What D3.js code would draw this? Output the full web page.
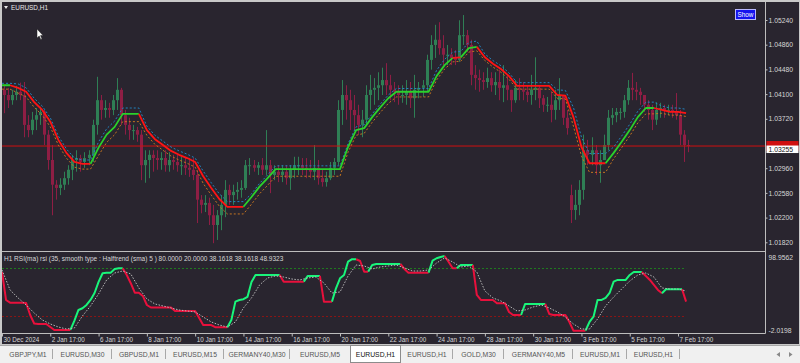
<!DOCTYPE html>
<html><head><meta charset="utf-8">
<script src="https://cdn.jsdelivr.net/npm/d3@7"></script>
<style>
html,body{margin:0;padding:0;background:#f0f0f0;overflow:hidden;}
svg{display:block;}
text{font-family:"Liberation Sans",Arial,sans-serif;}
</style></head><body>
<svg id="chart" width="800" height="363"></svg>
<script>
// ---------------- DATA ----------------
const symbolTitle = "EURUSD,H1";
const rsiTitle = "H1 RSI(ma) rsi (35, smooth type : Halftrend (sma)  5 ) 80.0000 20.0000 38.1618 38.1618 48.9323";
const timeLabels = ["30 Dec 2024","2 Jan 17:00","6 Jan 17:00","8 Jan 17:00","10 Jan 17:00","14 Jan 17:00","16 Jan 17:00","20 Jan 17:00","22 Jan 17:00","24 Jan 17:00","28 Jan 17:00","30 Jan 17:00","3 Feb 17:00","5 Feb 17:00","7 Feb 17:00"];
const timeLabelBars = [0,12,24,36,48,60,72,84,96,108,120,132,144,156,168]; // in 4-hour candle units
const priceTicks = [1.05240,1.04860,1.04480,1.04100,1.03720,1.02960,1.02580,1.02200,1.01820];
const bidPrice = 1.03255;
const hLinePrice = 1.03255;
const rsiLevels = [80, 20];
const rsiScaleLabels = ["98.9562","-2.0198"];
const rsiRange = [-2.0198, 98.9562];
const tabNames = ["GBPJPY,M1","EURUSD,M30","GBPUSD,M1","EURUSD,M15","GERMANY40,M30","EURUSD,M5","EURUSD,H1","EURUSD,H1","GOLD,M30","GERMANY40,M5","EURUSD,M1","EURUSD,H1"];
const activeTab = 6;

// 4-hour candles (aggregated from H1)
const candleOpen = [1.0412,1.0404,1.0396,1.0404,1.0409,1.0404,1.0358,1.0350,1.0366,1.0373,
1.0378,1.0343,1.0304,1.0266,1.0261,1.0266,1.0276,1.0289,1.0304,1.0307,
1.0301,1.0307,1.0312,1.0358,1.0396,1.0381,1.0384,1.0381,1.0396,1.0412,
1.0373,1.0358,1.0350,1.0350,1.0343,1.0296,1.0304,1.0312,1.0307,1.0304,
1.0307,1.0296,1.0304,1.0301,1.0296,1.0296,1.0292,1.0289,1.0281,1.0243,
1.0235,1.0238,1.0219,1.0204,1.0219,1.0235,1.0258,1.0250,1.0255,1.0258,
1.0261,1.0296,1.0296,1.0292,1.0296,1.0289,1.0296,1.0281,1.0286,1.0281,
1.0286,1.0276,1.0289,1.0296,1.0296,1.0292,1.0289,1.0286,1.0292,1.0276,
1.0270,1.0276,1.0292,1.0301,1.0381,1.0404,1.0396,1.0381,1.0373,1.0358,
1.0366,1.0404,1.0412,1.0415,1.0419,1.0427,1.0419,1.0412,1.0409,1.0404,
1.0404,1.0409,1.0399,1.0412,1.0415,1.0419,1.0458,1.0481,1.0489,1.0476,
1.0466,1.0466,1.0461,1.0458,1.0496,1.0496,1.0481,1.0435,1.0430,1.0427,
1.0424,1.0430,1.0419,1.0424,1.0415,1.0419,1.0412,1.0396,1.0415,1.0412,
1.0409,1.0404,1.0412,1.0415,1.0399,1.0389,1.0389,1.0381,1.0396,1.0404,
1.0369,1.0250,1.0227,1.0235,1.0258,1.0319,1.0312,1.0319,1.0296,1.0304,
1.0327,1.0369,1.0373,1.0378,1.0378,1.0396,1.0415,1.0412,1.0409,1.0404,
1.0389,1.0381,1.0366,1.0381,1.0384,1.0381,1.0381,1.0378,1.0373,1.0343,
1.0327];
const candleHigh = [1.0418,1.0415,1.0412,1.0418,1.0423,1.0424,1.0373,1.0378,1.0384,1.0386,
1.0381,1.0350,1.0327,1.0273,1.0276,1.0286,1.0296,1.0312,1.0319,1.0312,
1.0316,1.0319,1.0366,1.0432,1.0404,1.0396,1.0392,1.0404,1.0430,1.0415,
1.0381,1.0369,1.0358,1.0355,1.0350,1.0319,1.0319,1.0319,1.0319,1.0316,
1.0319,1.0316,1.0312,1.0312,1.0309,1.0309,1.0307,1.0307,1.0289,1.0250,
1.0250,1.0246,1.0235,1.0227,1.0250,1.0273,1.0266,1.0266,1.0270,1.0273,
1.0304,1.0307,1.0304,1.0301,1.0307,1.0350,1.0304,1.0296,1.0296,1.0296,
1.0296,1.0296,1.0309,1.0309,1.0307,1.0307,1.0304,1.0327,1.0304,1.0289,
1.0286,1.0301,1.0307,1.0396,1.0427,1.0419,1.0412,1.0404,1.0389,1.0381,
1.0419,1.0435,1.0430,1.0439,1.0446,1.0453,1.0435,1.0424,1.0419,1.0419,
1.0427,1.0424,1.0435,1.0424,1.0427,1.0466,1.0496,1.0512,1.0516,1.0496,
1.0481,1.0476,1.0473,1.0519,1.0527,1.0504,1.0489,1.0450,1.0443,1.0439,
1.0446,1.0439,1.0439,1.0443,1.0450,1.0435,1.0412,1.0427,1.0430,1.0424,
1.0419,1.0435,1.0462,1.0419,1.0404,1.0401,1.0409,1.0412,1.0430,1.0404,
1.0381,1.0266,1.0258,1.0273,1.0343,1.0335,1.0339,1.0327,1.0319,1.0343,
1.0381,1.0384,1.0384,1.0384,1.0404,1.0427,1.0438,1.0424,1.0415,1.0404,
1.0396,1.0389,1.0393,1.0392,1.0389,1.0389,1.0389,1.0407,1.0381,1.0350,
1.0335];
const candleLow = [1.0376,1.0384,1.0389,1.0396,1.0396,1.0339,1.0339,1.0343,1.0350,1.0358,
1.0327,1.0289,1.0219,1.0243,1.0250,1.0258,1.0266,1.0273,1.0286,1.0286,
1.0292,1.0296,1.0301,1.0343,1.0366,1.0369,1.0369,1.0373,1.0381,1.0358,
1.0343,1.0335,1.0335,1.0332,1.0273,1.0269,1.0276,1.0286,1.0289,1.0289,
1.0286,1.0286,1.0289,1.0286,1.0281,1.0281,1.0278,1.0273,1.0207,1.0222,
1.0224,1.0204,1.0176,1.0181,1.0196,1.0216,1.0235,1.0235,1.0243,1.0246,
1.0258,1.0281,1.0286,1.0281,1.0281,1.0281,1.0253,1.0273,1.0270,1.0270,
1.0266,1.0258,1.0276,1.0281,1.0281,1.0276,1.0276,1.0273,1.0266,1.0263,
1.0263,1.0273,1.0281,1.0296,1.0358,1.0366,1.0350,1.0350,1.0343,1.0339,
1.0358,1.0381,1.0389,1.0396,1.0404,1.0404,1.0396,1.0393,1.0389,1.0392,
1.0389,1.0384,1.0369,1.0399,1.0401,1.0409,1.0443,1.0461,1.0466,1.0450,
1.0450,1.0450,1.0450,1.0455,1.0481,1.0470,1.0419,1.0412,1.0409,1.0412,
1.0415,1.0409,1.0404,1.0396,1.0393,1.0396,1.0378,1.0392,1.0396,1.0396,
1.0393,1.0389,1.0396,1.0384,1.0378,1.0378,1.0362,1.0366,1.0381,1.0358,
1.0343,1.0207,1.0212,1.0219,1.0243,1.0296,1.0296,1.0281,1.0269,1.0304,
1.0319,1.0358,1.0362,1.0366,1.0369,1.0389,1.0396,1.0396,1.0389,1.0378,
1.0366,1.0350,1.0358,1.0369,1.0369,1.0373,1.0369,1.0366,1.0327,1.0301,
1.0316];
const candleClose = [1.0404,1.0396,1.0404,1.0409,1.0404,1.0358,1.0350,1.0366,1.0373,1.0378,
1.0343,1.0304,1.0266,1.0261,1.0266,1.0276,1.0289,1.0304,1.0307,1.0301,
1.0307,1.0312,1.0358,1.0396,1.0381,1.0384,1.0381,1.0396,1.0412,1.0373,
1.0358,1.0350,1.0350,1.0343,1.0296,1.0304,1.0312,1.0307,1.0304,1.0307,
1.0296,1.0304,1.0301,1.0296,1.0296,1.0292,1.0289,1.0281,1.0243,1.0235,
1.0238,1.0219,1.0204,1.0219,1.0235,1.0258,1.0250,1.0255,1.0258,1.0261,
1.0296,1.0296,1.0292,1.0296,1.0289,1.0296,1.0281,1.0286,1.0281,1.0286,
1.0276,1.0289,1.0296,1.0296,1.0292,1.0289,1.0286,1.0292,1.0276,1.0270,
1.0276,1.0292,1.0301,1.0381,1.0404,1.0396,1.0381,1.0373,1.0358,1.0366,
1.0404,1.0412,1.0415,1.0419,1.0427,1.0419,1.0412,1.0409,1.0404,1.0404,
1.0409,1.0399,1.0412,1.0415,1.0419,1.0458,1.0481,1.0489,1.0476,1.0466,
1.0466,1.0461,1.0458,1.0496,1.0496,1.0481,1.0435,1.0430,1.0427,1.0424,
1.0430,1.0419,1.0424,1.0415,1.0419,1.0412,1.0396,1.0415,1.0412,1.0409,
1.0404,1.0412,1.0415,1.0399,1.0389,1.0389,1.0381,1.0396,1.0404,1.0369,
1.0353,1.0227,1.0235,1.0258,1.0319,1.0312,1.0319,1.0296,1.0304,1.0327,
1.0369,1.0373,1.0378,1.0378,1.0396,1.0415,1.0412,1.0409,1.0404,1.0389,
1.0381,1.0366,1.0381,1.0384,1.0381,1.0381,1.0378,1.0373,1.0343,1.0327,
1.0326];

// HalfTrend line, sampled every 2 candles (8 hours)
const htValue = [1.0419,1.0419,1.0415,1.0409,1.0393,1.0381,1.0363,1.0335,1.0315,1.0301,
1.0298,1.0298,1.0323,1.0343,1.0355,1.0375,1.0375,1.0375,1.0350,1.0336,
1.0327,1.0318,1.0312,1.0307,1.0301,1.0279,1.0261,1.0244,1.0232,1.0232,
1.0232,1.0247,1.0263,1.0276,1.0290,1.0290,1.0290,1.0290,1.0290,1.0290,
1.0290,1.0290,1.0290,1.0324,1.0350,1.0353,1.0370,1.0385,1.0399,1.0409,
1.0409,1.0409,1.0409,1.0409,1.0433,1.0450,1.0461,1.0462,1.0476,1.0478,
1.0462,1.0452,1.0444,1.0433,1.0418,1.0418,1.0418,1.0418,1.0418,1.0404,
1.0403,1.0370,1.0324,1.0299,1.0299,1.0299,1.0315,1.0332,1.0350,1.0370,
1.0384,1.0384,1.0381,1.0378,1.0378,1.0376];
const htUpper = [1.0422,1.0422,1.0421,1.0415,1.0399,1.0387,1.0369,1.0341,1.0321,1.0307,
1.0304,1.0304,1.0332,1.0352,1.0364,1.0384,1.0384,1.0384,1.0356,1.0342,
1.0333,1.0324,1.0318,1.0313,1.0307,1.0287,1.0269,1.0252,1.0240,1.0240,
1.0240,1.0252,1.0268,1.0281,1.0295,1.0295,1.0295,1.0295,1.0295,1.0295,
1.0295,1.0295,1.0295,1.0329,1.0355,1.0358,1.0375,1.0390,1.0404,1.0414,
1.0414,1.0414,1.0414,1.0414,1.0442,1.0459,1.0470,1.0471,1.0485,1.0487,
1.0467,1.0457,1.0449,1.0438,1.0423,1.0423,1.0423,1.0423,1.0423,1.0412,
1.0411,1.0385,1.0339,1.0314,1.0314,1.0314,1.0324,1.0341,1.0359,1.0379,
1.0393,1.0393,1.0387,1.0384,1.0384,1.0382];
const htLower = [1.0413,1.0413,1.0407,1.0401,1.0385,1.0373,1.0355,1.0327,1.0307,1.0293,
1.0290,1.0290,1.0311,1.0331,1.0343,1.0363,1.0363,1.0363,1.0342,1.0328,
1.0319,1.0310,1.0304,1.0299,1.0293,1.0268,1.0250,1.0233,1.0221,1.0221,
1.0221,1.0236,1.0252,1.0265,1.0279,1.0279,1.0279,1.0279,1.0279,1.0279,
1.0279,1.0279,1.0279,1.0316,1.0342,1.0345,1.0362,1.0377,1.0391,1.0401,
1.0401,1.0401,1.0401,1.0401,1.0427,1.0444,1.0455,1.0456,1.0470,1.0472,
1.0457,1.0447,1.0439,1.0428,1.0413,1.0413,1.0413,1.0413,1.0413,1.0399,
1.0398,1.0356,1.0310,1.0285,1.0285,1.0285,1.0306,1.0323,1.0341,1.0361,
1.0375,1.0375,1.0376,1.0373,1.0373,1.0371];
// trend runs: [direction, count] (u = up/green, d = down/red)
const htTrendRuns = [["u",2],["d",10],["u",6],["d",13],["u",26],["d",1],["u",2],["d",16],["u",6],["d",4]];

// RSI(ma) per 4-hour candle
const rsiValue = [75.4,40.4,37.0,37.0,37.0,37.0,36.6,21.6,11.0,10.4,
10.4,10.4,6.6,2.9,2.9,2.9,2.9,2.9,14.5,27.9,
30.0,34.1,40.4,49.1,62.9,73.8,74.5,74.5,79.1,80.0,
80.0,71.6,61.3,49.5,49.5,45.4,34.1,31.0,31.0,31.0,
31.0,31.0,31.0,26.6,26.6,26.6,26.6,26.6,26.6,17.9,
9.1,9.1,9.1,6.3,6.3,6.3,6.3,15.4,38.3,40.4,
41.3,44.1,62.9,71.6,71.6,71.6,71.6,71.6,71.6,71.6,
63.3,63.3,63.3,63.3,63.3,63.3,70.4,70.4,70.4,70.4,
38.3,38.3,38.3,55.0,67.5,71.6,88.3,91.3,91.3,89.1,
75.8,75.8,84.1,85.4,85.4,85.4,85.4,85.4,85.4,85.4,
79.1,74.5,74.5,74.5,74.5,74.5,74.5,89.5,92.5,94.1,
95.4,87.9,80.0,80.0,84.1,84.1,84.1,84.1,46.6,40.4,
40.4,40.4,40.4,36.3,36.3,36.3,25.4,21.6,21.6,21.6,
35.4,35.4,35.4,35.4,35.4,35.4,22.9,21.6,21.6,21.6,
21.6,12.9,2.0,2.0,2.0,2.0,12.9,19.5,40.4,40.4,
42.9,49.1,63.3,65.4,65.4,65.4,71.6,75.4,75.4,75.4,
70.4,65.4,59.1,52.9,48.8,53.8,53.8,53.8,53.8,53.8,
38.3];
const rsiTrendRuns = [["d",18],["u",13],["d",26],["u",13],["d",6],["u",4],["d",3],["u",6],["d",3],["u",8],["d",7],["u",4],["d",3],["u",4],["d",12],["u",6],["d",10],["u",14],["d",5],["u",5],["d",1]];
// RSI signal (sampled every 2 candles)
const rsiSignal = [77.9,52.9,42.9,34.1,24.1,15.4,10.4,6.6,4.1,5.4,
20.4,32.9,47.9,65.4,74.1,76.6,72.9,55.4,41.6,35.4,
32.9,30.4,27.9,26.6,25.4,19.1,12.9,9.1,6.6,12.9,
30.4,42.9,59.1,67.9,70.4,69.1,66.6,65.4,67.9,69.1,
61.6,49.1,50.4,70.4,84.1,82.9,79.1,81.6,82.9,84.1,
80.4,76.6,76.6,77.9,86.6,92.9,87.9,81.6,82.9,75.4,
51.6,42.9,39.1,32.9,26.6,27.9,31.6,34.1,30.4,25.4,
19.1,10.4,4.1,4.1,16.6,32.9,44.1,54.1,64.1,71.6,
74.1,69.1,55.4,54.1,54.1,51.6];

// ---------------- STYLE / LAYOUT ----------------
const C = {
  bg:"#29252f", frame:"#c8c8c8", axis:"#bdbdbd", text:"#d6d6d6",
  bull:"#2f7f55", bear:"#8e1e44", htUp:"#2bd12b", htDn:"#ff1414",
  bandUp:"#2384c0", bandDn:"#c47520", hline:"#d01010",
  rsiUp:"#19f57a", rsiDn:"#e8103c", sig:"#b8b8b8", lvlHi:"#1f7a1f", lvlLo:"#8a1414"
};
const svg = d3.select("#chart");
const W = 800, H = 363;
const plotL = 2, plotR = 765.5, mainTop = 2, mainBot = 251.5, subTop = 251.5, subBot = 333.5;

function expandRuns(runs){ const out=[]; runs.forEach(([d,n])=>{ for(let i=0;i<n;i++) out.push(d); }); return out; }
const htTrend = expandRuns(htTrendRuns);
const rsiTrend = expandRuns(rsiTrendRuns);

// scales
const x = d3.scaleLinear().domain([0,171]).range([2, 2+171*4.024]);
const y = d3.scaleLinear().domain([1.0524, 1.0182]).range([17, 17+0.0342*6500]);
const yr = d3.scaleLinear().domain(rsiRange).range([333.9, 253.1]);

// frame
svg.append("rect").attr("width",W).attr("height",H).attr("fill","#f0f0f0");
svg.append("rect").attr("x",0).attr("y",0).attr("width",W).attr("height",345).attr("fill",C.frame);
svg.append("rect").attr("x",2).attr("y",2).attr("width",W-3).attr("height",342).attr("fill",C.bg);

const defs = svg.append("defs");
defs.append("clipPath").attr("id","clipMain").append("rect").attr("x",plotL).attr("y",mainTop).attr("width",plotR-plotL).attr("height",mainBot-mainTop);
defs.append("clipPath").attr("id","clipSub").append("rect").attr("x",plotL).attr("y",subTop+1).attr("width",plotR-plotL).attr("height",subBot-subTop-1);

const main = svg.append("g").attr("clip-path","url(#clipMain)");

// candles
const candles = candleClose.map((c,i)=>({i,o:candleOpen[i],h:candleHigh[i],l:candleLow[i],c}));
const cg = main.append("g");
cg.selectAll("line.wick").data(candles).join("line").attr("class","wick")
  .attr("x1",d=>Math.round(x(d.i+0.5))+0.5).attr("x2",d=>Math.round(x(d.i+0.5))+0.5)
  .attr("y1",d=>y(d.h)).attr("y2",d=>y(d.l))
  .attr("stroke",d=>d.c>=d.o?C.bull:C.bear).attr("stroke-width",1);
cg.selectAll("rect.body").data(candles).join("rect").attr("class","body")
  .attr("x",d=>Math.round(x(d.i+0.5))-1).attr("width",3)
  .attr("y",d=>Math.min(y(d.o),y(d.c))).attr("height",d=>Math.max(1,Math.abs(y(d.o)-y(d.c))))
  .attr("fill",d=>d.c>=d.o?C.bull:C.bear);

// horizontal line
main.append("line").attr("x1",plotL).attr("x2",plotR).attr("y1",y(hLinePrice)).attr("y2",y(hLinePrice))
  .attr("stroke",C.hline).attr("stroke-width",1);

// bands
const htLine = d3.line().x((d,i)=>x(i*2)).y(d=>y(d));
main.append("path").attr("d",htLine(htUpper)).attr("fill","none").attr("stroke",C.bandUp).attr("stroke-width",1).attr("stroke-dasharray","2,2");
main.append("path").attr("d",htLine(htLower)).attr("fill","none").attr("stroke",C.bandDn).attr("stroke-width",1).attr("stroke-dasharray","2,2");

function coloredRuns(vals, trend){
  const runs=[]; let cur=null;
  for(let i=1;i<vals.length;i++){
    const c=trend[i];
    if(!cur||cur.c!==c){ cur={c,pts:[[i-1,vals[i-1]]]}; runs.push(cur); }
    cur.pts.push([i,vals[i]]);
  }
  return runs;
}
const htRuns = coloredRuns(htValue, htTrend);
const lineHT = d3.line().x(d=>x(d[0]*2)).y(d=>y(d[1]));
main.selectAll("path.ht").data(htRuns).join("path").attr("class","ht")
  .attr("d",d=>lineHT(d.pts)).attr("fill","none")
  .attr("stroke",d=>d.c==="u"?C.htUp:C.htDn).attr("stroke-width",1.8).attr("stroke-linejoin","round");

// axes lines
svg.append("line").attr("x1",plotR).attr("x2",plotR).attr("y1",2).attr("y2",subBot).attr("stroke",C.axis);
svg.append("line").attr("x1",plotL).attr("x2",plotR).attr("y1",mainBot).attr("y2",mainBot).attr("stroke",C.axis);
svg.append("line").attr("x1",plotL).attr("x2",plotR).attr("y1",subBot).attr("y2",subBot).attr("stroke",C.axis);

// price axis
const pa = svg.append("g").attr("transform",`translate(${plotR},0)`)
  .call(d3.axisRight(y).tickValues(priceTicks).tickFormat(d3.format(".5f")).tickSize(2).tickPadding(1));
pa.select(".domain").remove();
pa.selectAll("line").attr("stroke",C.axis).attr("transform","translate(0,3)");
pa.selectAll("text").attr("fill",C.text).attr("font-size","6.8px").attr("font-family","Liberation Sans, Arial, sans-serif").attr("y",3);

// hline label + bid label
svg.append("rect").attr("x",plotR+1).attr("y",y(hLinePrice)-5).attr("width",W-plotR-2.5).attr("height",10).attr("fill",C.hline);
svg.append("rect").attr("x",plotR+1).attr("y",y(bidPrice)-0.5).attr("width",W-plotR-2.5).attr("height",7.5).attr("fill","#ffffff");
svg.append("text").attr("x",plotR+3).attr("y",y(bidPrice)+3.3).attr("dy","0.35em").attr("font-size","6.8px").attr("fill","#111").text(d3.format(".5f")(bidPrice));

// Title + show button + cursor
svg.append("path").attr("d","M4,6 L8,6 L6,9 Z").attr("fill","#e8e8e8");
svg.append("text").attr("x",11).attr("y",7.5).attr("dy","0.35em").attr("font-size","6.4px").attr("fill","#e8e8e8").text(symbolTitle);
svg.append("rect").attr("x",735.5).attr("y",9.5).attr("width",20).attr("height",10).attr("fill","#1414ee").attr("stroke","#b8b8ff").attr("stroke-width",1);
svg.append("text").attr("x",745.5).attr("y",14.6).attr("dy","0.35em").attr("text-anchor","middle").attr("font-size","6.4px").attr("fill","#ffffff").text("Show");
svg.append("path").attr("d","M37,29 L37,38 L39.2,36 L40.8,39.6 L42,39 L40.5,35.6 L43,35.4 Z").attr("fill","#ffffff").attr("stroke","#222").attr("stroke-width",0.5);

// ---------------- RSI panel ----------------
const sub = svg.append("g").attr("clip-path","url(#clipSub)");
sub.selectAll("line.lvl").data(rsiLevels).join("line").attr("class","lvl")
  .attr("x1",x(0)).attr("x2",x(rsiValue.length-1)).attr("y1",d=>Math.round(yr(d))+0.5).attr("y2",d=>Math.round(yr(d))+0.5)
  .attr("stroke",(d,i)=>i===0?C.lvlHi:C.lvlLo).attr("stroke-width",1).attr("stroke-dasharray","2,2");

const rsiRuns = coloredRuns(rsiValue, rsiTrend);
const lineR = d3.line().x(d=>x(d[0])).y(d=>yr(d[1]));
sub.selectAll("path.rsi").data(rsiRuns).join("path").attr("class","rsi")
  .attr("d",d=>lineR(d.pts)).attr("fill","none")
  .attr("stroke",d=>d.c==="u"?C.rsiUp:C.rsiDn).attr("stroke-width",2).attr("stroke-linejoin","round");
sub.append("path").attr("d",d3.line().x((d,i)=>x(i*2)).y(d=>yr(d))(rsiSignal))
  .attr("fill","none").attr("stroke",C.sig).attr("stroke-width",1).attr("stroke-dasharray","1.5,1.5");

svg.append("text").attr("x",4).attr("y",258.5).attr("dy","0.35em").attr("font-size","6.5px").attr("fill",C.text).text(rsiTitle);
svg.append("text").attr("x",plotR+3).attr("y",258).attr("dy","0.35em").attr("font-size","6.8px").attr("fill",C.text).text(rsiScaleLabels[0]);
svg.append("text").attr("x",plotR+3).attr("y",330.5).attr("dy","0.35em").attr("font-size","6.8px").attr("fill",C.text).text(rsiScaleLabels[1]);

// time axis
const ta = svg.append("g").attr("transform",`translate(0,${subBot})`)
  .call(d3.axisBottom(x).tickValues(timeLabelBars).tickFormat((d,i)=>timeLabels[i]).tickSize(3).tickPadding(2));
ta.select(".domain").remove();
ta.selectAll("line").attr("stroke",C.axis);
ta.selectAll("text").attr("fill",C.text).attr("font-size","6.3px").attr("font-family","Liberation Sans, Arial, sans-serif")
  .attr("text-anchor","start").attr("x",1).attr("y",4.5).attr("dy","0.71em");

// ---------------- Tab bar ----------------
const tabBar = svg.append("g");
tabBar.append("rect").attr("x",0).attr("y",345).attr("width",W).attr("height",18).attr("fill","#f0f0f0");
tabBar.append("line").attr("x1",0).attr("x2",W).attr("y1",345.5).attr("y2",345.5).attr("stroke","#a8a8a8");
let cx = 3;
const tabPos = [];
const tabWidths = [50,59,54,58,66,60,51,52,51,69,54,53];
tabNames.forEach((t,i)=>{ tabPos.push(cx); cx += tabWidths[i]; });
tabBar.selectAll("g.tab").data(tabNames).join("g").attr("class","tab").each(function(t,i){
  const g = d3.select(this); const x0 = tabPos[i], w = tabWidths[i];
  if(i===activeTab){
    g.append("rect").attr("x",x0+0.5).attr("y",345.5).attr("width",w-1).attr("height",17).attr("fill","#ffffff").attr("stroke","#8c8c8c");
  } else if(i!==activeTab-1){
    g.append("line").attr("x1",x0+w-0.5).attr("x2",x0+w-0.5).attr("y1",349).attr("y2",359).attr("stroke","#a8a8a8");
  }
  g.append("text").attr("x",x0+w/2).attr("y",354.5).attr("dy","0.35em").attr("text-anchor","middle")
    .attr("font-size","6.8px").attr("fill",i===activeTab?"#111":"#555").text(t);
});
tabBar.append("path").attr("d","M780,352 L776.5,354.5 L780,357 Z").attr("fill","#888");
tabBar.append("path").attr("d","M789,352 L792.5,354.5 L789,357 Z").attr("fill","#888");
</script>
</body></html>
